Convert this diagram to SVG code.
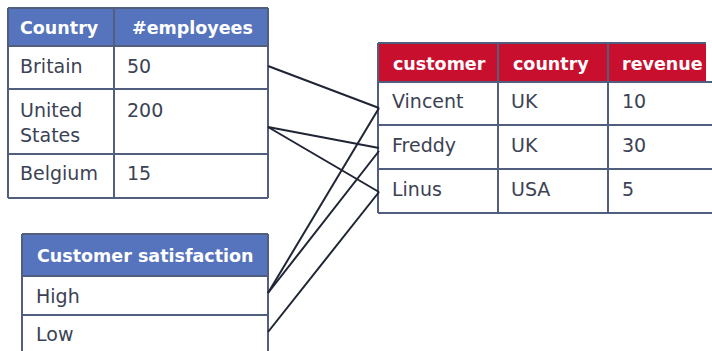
<svg xmlns="http://www.w3.org/2000/svg" width="712" height="351" viewBox="0 0 712 351">
<style>
.hb{fill:#5674BE}
.hr{fill:#C8102E}
.g{stroke:#525E7E;stroke-width:2;fill:none}
.ht{font-family:"DejaVu Sans",sans-serif;font-weight:bold;font-size:17.5px;fill:#ffffff}
.bt{font-family:"DejaVu Sans",sans-serif;font-size:19px;fill:#3b4254}
.c{stroke:#1f2535;stroke-width:2;fill:none}
</style>
<rect width="712" height="351" fill="#ffffff"/>
<g id="countries">
<rect class="hb" x="8" y="8" width="260" height="38"/>
<path class="g" d="M8 8H268M8 46H268M8 89H268M8 154H268M8 198H268M8 8V198M114 8V198M268 8V198"/>
<text class="ht" x="20" y="34">Country</text>
<text class="ht" x="132" y="34">#employees</text>
<text class="bt" x="20" y="73">Britain</text>
<text class="bt" x="127" y="73">50</text>
<text class="bt" x="20" y="117">United</text>
<text class="bt" x="20" y="142">States</text>
<text class="bt" x="127" y="117">200</text>
<text class="bt" x="20" y="180">Belgium</text>
<text class="bt" x="127" y="180">15</text>
</g>
<g id="customers">
<rect class="hr" x="378" y="43" width="328" height="39"/>
<path class="g" d="M378 43H706M378 82H712M378 125H712M378 169H712M378 213H712M378 43V213M498 43V213M608 43V213"/>
<text class="ht" x="393" y="70">customer</text>
<text class="ht" x="513" y="70">country</text>
<text class="ht" x="622" y="70">revenue</text>
<text class="bt" x="392" y="108">Vincent</text>
<text class="bt" x="511" y="108">UK</text>
<text class="bt" x="622" y="108">10</text>
<text class="bt" x="392" y="152">Freddy</text>
<text class="bt" x="511" y="152">UK</text>
<text class="bt" x="622" y="152">30</text>
<text class="bt" x="392" y="196">Linus</text>
<text class="bt" x="511" y="196">USA</text>
<text class="bt" x="622" y="196">5</text>
</g>
<g id="satisfaction">
<rect class="hb" x="22" y="234" width="246" height="42"/>
<path class="g" d="M22 234H268M22 276H268M22 315H268M22 234V351M268 234V351"/>
<text class="ht" x="37" y="262">Customer satisfaction</text>
<text class="bt" x="36" y="303">High</text>
<text class="bt" x="36" y="341">Low</text>
</g>
<g id="connectors">
<path class="c" d="M268 66L379 108"/>
<path class="c" d="M268 127L379 148"/>
<path class="c" d="M268 127L379 192"/>
<path class="c" d="M268 293L379 108"/>
<path class="c" d="M268 293L379 151"/>
<path class="c" d="M268 332L379 192"/>
</g>
</svg>
